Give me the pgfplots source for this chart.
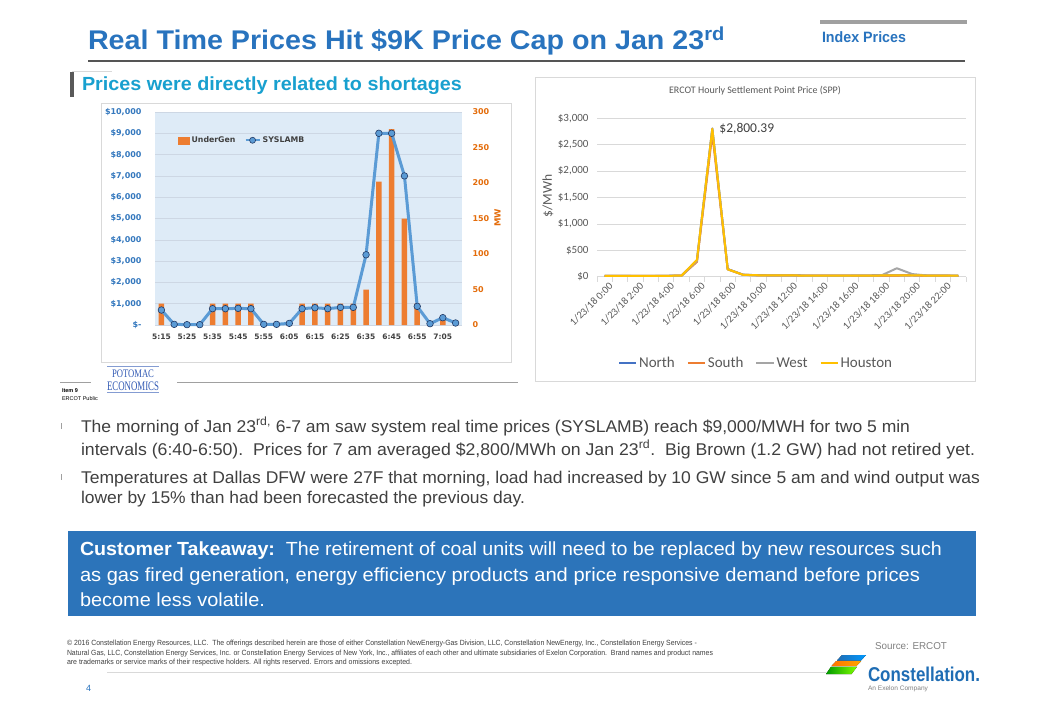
\documentclass[border=0pt]{standalone}
\usepackage{pgfplots}
\usepackage{pgfplotstable}
\pgfplotsset{compat=1.18}
\usepackage{fontspec}
\setmainfont{Liberation Sans}
\newfontfamily\dejavu{DejaVu Sans}
\newfontfamily\carlito{Carlito}
\newfontfamily\serifp{Liberation Serif}

\definecolor{titleblue}{RGB}{40,115,190}
\definecolor{subteal}{RGB}{24,160,207}
\definecolor{boxblue}{RGB}{44,116,186}
\definecolor{bodygray}{RGB}{64,64,64}
\definecolor{plotbg}{RGB}{222,235,247}
\definecolor{gridc}{RGB}{205,215,228}
\definecolor{leftblue}{RGB}{52,120,190}
\definecolor{orangeax}{RGB}{228,108,10}
\definecolor{barorange}{RGB}{237,125,49}
\definecolor{lineblue}{RGB}{91,155,213}
\definecolor{markdark}{RGB}{32,56,100}
\definecolor{northc}{RGB}{68,114,196}
\definecolor{southc}{RGB}{237,125,49}
\definecolor{westc}{RGB}{165,165,165}
\definecolor{houstonc}{RGB}{255,192,0}
\definecolor{xlgray}{RGB}{89,89,89}
\definecolor{frameg}{RGB}{217,217,217}
\definecolor{rulegray}{RGB}{85,85,85}
\definecolor{bargray}{RGB}{160,160,160}
\definecolor{potblue}{RGB}{50,90,180}
\definecolor{constblue}{RGB}{31,109,180}

\newcommand{\fs}[1]{\fontsize{#1}{#1}\selectfont}
\newcommand{\fitw}[2]{\resizebox{#1}{\height}{#2}}

\pgfplotstableread{
i mw price
0 30 703
1 0 31
2 0 16
3 0 16
4 30 766
5 30 766
6 30 781
7 30 766
8 0 31
9 0 31
10 0 78
11 30 766
12 30 812
13 30 766
14 30 828
15 30 828
16 50 3297
17 202 9000
18 276 9000
19 150 7000
20 30 875
21 0 62
22 10 344
23 0 94
}\rtdata

\pgfplotstableread{
h north south west houston
0 18 16 15 17
1 17 15 14 16
2 16 15 13 15
3 16 15 13 15
4 17 16 14 16
5 22 20 18 21
6 310 280 300 320
7 2800 2700 2810 2800.39
8 145 140 140 140
9 38 36 35 36
10 28 26 25 27
11 27 26 25 26
12 25 24 23 25
13 22 20 18 21
14 20 19 17 19
15 20 19 17 19
16 21 20 18 20
17 22 21 19 21
18 24 22 25 23
19 24 22 160 23
20 28 26 50 27
21 22 20 22 21
22 20 19 19 20
23 18 17 16 18
}\sppdata

\begin{document}
\begin{tikzpicture}
% ---------- background and frames
\begin{scope}[x=1pt,y=-1pt]
\path[use as bounding box, fill=white] (0,0) rectangle (1060,714);
\filldraw[fill=white, draw=frameg, line width=0.8pt] (101,103) rectangle (511,362);
\filldraw[fill=white, draw=frameg, line width=0.8pt] (535,77.5) rectangle (975.5,381);
\end{scope}

% ---------- left chart: base axis (price scale, background, grid)
\begin{axis}[
  at={(155pt,-325pt)}, anchor=south west, scale only axis,
  width=307pt, height=213pt,
  xmin=-0.5, xmax=23.5, ymin=0, ymax=10000,
  scaled y ticks=false,
  axis background/.style={fill=plotbg},
  axis line style={draw=none},
  major tick length=0pt,
  ytick={0,1000,...,10000},
  yticklabels={\$-,{\$1,000},{\$2,000},{\$3,000},{\$4,000},{\$5,000},{\$6,000},{\$7,000},{\$8,000},{\$9,000},{\$10,000}},
  yticklabel style={font=\dejavu\bfseries\fs{8}, text=leftblue, xshift=-10pt},
  xtick={0,2,...,22},
  xticklabels={5:15,5:25,5:35,5:45,5:55,6:05,6:15,6:25,6:35,6:45,6:55,7:05},
  xticklabel style={font=\dejavu\bfseries\fs{7.5}, text=bodygray, yshift=-5pt},
  ymajorgrids, grid style={draw=gridc, line width=0.6pt},
]
\addplot[draw=none, forget plot] table[x=i,y=price]{\rtdata};
\end{axis}

% ---------- left chart: UnderGen bars on MW scale
\begin{axis}[
  at={(155pt,-325pt)}, anchor=south west, scale only axis,
  width=307pt, height=213pt,
  xmin=-0.5, xmax=23.5, ymin=0, ymax=300,
  axis line style={draw=none},
  major tick length=0pt,
  xtick=\empty,
  ytick={0,50,...,300}, yticklabel pos=right,
  yticklabels={0,50,100,150,200,250,300},
  yticklabel style={font=\dejavu\bfseries\fs{8}, text=orangeax, xshift=7pt, anchor=west},
  ylabel={MW},
  ylabel style={font=\dejavu\bfseries\fs{8.5}, text=orangeax, at={(axis description cs:1.1156,0.502)}, anchor=center},
]
\addplot[ybar, bar width=5.5pt, fill=barorange, draw=none] table[x=i,y=mw]{\rtdata};
\end{axis}

% ---------- left chart: SYSLAMB line
\begin{axis}[
  at={(155pt,-325pt)}, anchor=south west, scale only axis,
  width=307pt, height=213pt,
  xmin=-0.5, xmax=23.5, ymin=0, ymax=10000,
  hide axis, clip=false,
  legend columns=2,
  legend style={at={(axis description cs:0.075,0.895)}, anchor=north west, draw=none, fill=none,
    font=\dejavu\bfseries\fs{7.8}, text=bodygray, inner sep=0pt,
    /tikz/every even column/.append style={column sep=7pt}},
]
\addlegendimage{legend image code/.code={\fill[barorange] (0pt,-3.5pt) rectangle (11pt,3.5pt);}}
\addlegendentry{UnderGen}
\addplot[lineblue, line width=3pt, line join=round, mark=*, mark size=3.3pt,
  mark options={fill=lineblue, draw=markdark, line width=0.6pt},
  legend image code/.code={\draw[lineblue, line width=2.2pt] (0pt,0pt) -- (14pt,0pt); \filldraw[fill=lineblue, draw=markdark, line width=0.6pt] (7pt,0pt) circle (3pt);}]
  table[x=i,y=price]{\rtdata};
\addlegendentry{SYSLAMB}
\end{axis}

% ---------- right chart
\begin{axis}[
  at={(597pt,-276.7pt)}, anchor=south west, scale only axis,
  width=369pt, height=158.4pt,
  xmin=-0.5, xmax=23.5, ymin=0, ymax=3000,
  scaled y ticks=false,
  axis x line*=bottom, axis y line*=left,
  x axis line style={draw=frameg, line width=0.8pt},
  y axis line style={draw=none},
  major tick length=0pt,
  minor tick length=5pt,
  tick align=outside,
  ytick={0,500,...,3000},
  yticklabels={\$0,\$500,{\$1,000},{\$1,500},{\$2,000},{\$2,500},{\$3,000}},
  yticklabel style={font=\carlito\fs{11}, text=xlgray, xshift=-5pt},
  ytick style={draw=none},
  xtick={0,2,...,22},
  xticklabels={1/23/18 0:00,1/23/18 2:00,1/23/18 4:00,1/23/18 6:00,1/23/18 8:00,1/23/18 10:00,1/23/18 12:00,1/23/18 14:00,1/23/18 16:00,1/23/18 18:00,1/23/18 20:00,1/23/18 22:00},
  xtick style={draw=none},
  minor xtick={-0.5,0.5,...,23.5},
  minor x tick style={draw=frameg, line width=0.8pt},
  xticklabel style={font=\carlito\fs{10.5}, text=xlgray, rotate=45, anchor=north east, inner sep=1pt, yshift=-5pt},
  ymajorgrids, grid style={draw=frameg, line width=0.8pt},
  ylabel={\$/MWh},
  ylabel style={font=\carlito\fs{13.5}, text=xlgray, at={(axis description cs:-0.133,0.51)}, anchor=center},
  legend columns=4,
  legend style={at={(axis description cs:0.431,-0.545)}, anchor=center, draw=none, fill=none,
    font=\carlito\fs{15}, text=xlgray,
    /tikz/every even column/.append style={column sep=10pt}},
]
\addplot[northc, line width=2pt, line join=round] table[x=h,y=north]{\sppdata};
\addlegendentry{North}
\addplot[southc, line width=2pt, line join=round] table[x=h,y=south]{\sppdata};
\addlegendentry{South}
\addplot[westc, line width=2pt, line join=round] table[x=h,y=west]{\sppdata};
\addlegendentry{West}
\addplot[houstonc, line width=2pt, line join=round] table[x=h,y=houston]{\sppdata};
\addlegendentry{Houston}
\node[anchor=west, inner sep=0pt, font=\carlito\fs{13.5}, text=bodygray] at (axis cs:7.45,2797) {\$2,800.39};
\end{axis}

% ---------- slide text and decorations
\begin{scope}[x=1pt,y=-1pt, every node/.style={inner sep=0pt, outer sep=0pt, anchor=base west}]
% header
\fill[bargray] (820,20.5) rectangle (967,24.5);
\draw[rulegray, line width=2pt] (88,61) -- (965,61);
\node[text=titleblue] at (88,49.3) {\fitw{637pt}{\bfseries\fs{27}Real Time Prices Hit \$9K Price Cap on Jan 23\textsuperscript{rd}}};
\node[text=titleblue] at (822,43) {\fitw{84pt}{\bfseries\fs{15}Index Prices}};
% subtitle
\fill[xlgray] (70,72) rectangle (74,97);
\draw[frameg, line width=0.8pt] (72,71) -- (112,71);
\node[text=subteal] at (82,90.5) {\fitw{380pt}{\bfseries\fs{19}Prices were directly related to shortages}};
\node[anchor=center, text=xlgray] at (755,91) {\carlito\fs{10}ERCOT Hourly Settlement Point Price (SPP)};
% potomac
\draw[bargray, line width=1pt] (60,382) -- (91,382);
\draw[bargray, line width=1pt] (177,382) -- (518,382);
\draw[potblue!60, line width=0.5pt] (107,366.5) -- (159,366.5);
\node[text=potblue] at (112,377) {\fitw{42pt}{\serifp\fs{11.5}POTOMAC}};
\node[text=potblue] at (107,390.5) {\fitw{52pt}{\serifp\fs{13}ECONOMICS}};
\draw[potblue!60, line width=0.5pt] (107,392.5) -- (159,392.5);
\node[text=black] at (62,392) {\bfseries\fs{5.5}Item 9};
\node[text=black] at (62,400) {\fs{5.5}ERCOT Public};
% bullets
\fill[bargray] (60.5,423) rectangle (62,429);
\fill[bargray] (60.5,474) rectangle (62,480);
\node[text=bodygray] at (81,432) {\fitw{829pt}{\fs{17}The morning of Jan 23\textsuperscript{rd,} 6-7 am saw system real time prices (SYSLAMB) reach \$9,000/MWH for two 5 min}};
\node[text=bodygray] at (81,455) {\fitw{894pt}{\fs{17}intervals (6:40-6:50).\ \ Prices for 7 am averaged \$2,800/MWh on Jan 23\textsuperscript{rd}.\ \ Big Brown (1.2 GW) had not retired yet.}};
\node[text=bodygray] at (81,483) {\fitw{899pt}{\fs{17}Temperatures at Dallas DFW were 27F that morning, load had increased by 10 GW since 5 am and wind output was}};
\node[text=bodygray] at (81,503) {\fitw{444pt}{\fs{17}lower by 15\% than had been forecasted the previous day.}};
% takeaway box
\fill[boxblue] (68,530.5) rectangle (976,616);
\node[text=white] at (80,555) {\fitw{862pt}{\fs{19}\textbf{Customer Takeaway:}\ \ The retirement of coal units will need to be replaced by new resources such}};
\node[text=white] at (80,581) {\fitw{840pt}{\fs{19}as gas fired generation, energy efficiency products and price responsive demand before prices}};
\node[text=white] at (80,606) {\fitw{185pt}{\fs{19}become less volatile.}};
% footer
\node[text=bodygray] at (67,645.5) {\fitw{630pt}{\fs{7.5}© 2016 Constellation Energy Resources, LLC.\ \ The offerings described herein are those of either Constellation NewEnergy-Gas Division, LLC, Constellation NewEnergy, Inc., Constellation Energy Services -}};
\node[text=bodygray] at (67,655) {\fitw{646pt}{\fs{7.5}Natural Gas, LLC, Constellation Energy Services, Inc. or Constellation Energy Services of New York, Inc., affiliates of each other and ultimate subsidiaries of Exelon Corporation.\ \ Brand names and product names}};
\node[text=bodygray] at (67,664.5) {\fitw{345pt}{\fs{7.5}are trademarks or service marks of their respective holders. All rights reserved. Errors and omissions excepted.}};
\draw[frameg, line width=0.8pt] (107,672.7) -- (826,672.7);
\node[text=titleblue] at (86,691) {\fs{9}4};
\node[text=gray] at (875,649.5) {\fitw{72pt}{\fs{10}Source: ERCOT}};
% logo
\fill[left color=constblue, right color=cyan!60!blue] (837,660.5) -- (842,655) -- (866,655) -- (861,660.5) -- cycle;
\fill[left color=orange!90!red, right color=orange!70!yellow] (831.5,666) -- (836,661.2) -- (861,661.2) -- (856.5,666) -- cycle;
\fill[left color=green!60!black, right color=green!50!yellow] (826,674) -- (831,666.8) -- (857,666.8) -- (851.5,674) -- cycle;
\node[text=constblue] at (868,681.5) {\fitw{112pt}{\bfseries\fs{20}Constellation.}};
\node[text=gray] at (868,690.5) {\fitw{60pt}{\fs{6.5}An Exelon Company}};
\end{scope}
\end{tikzpicture}
\end{document}
